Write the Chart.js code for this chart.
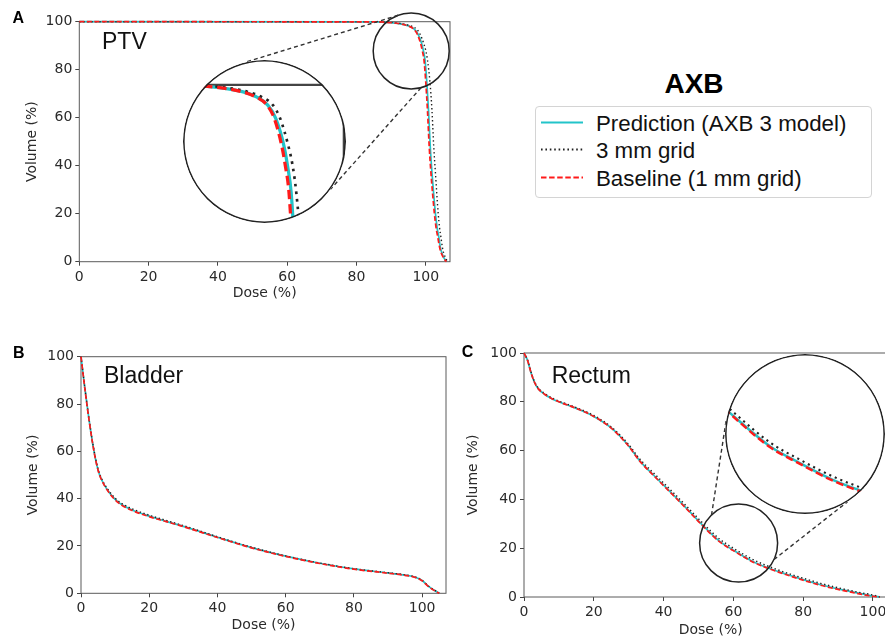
<!DOCTYPE html>
<html>
<head>
<meta charset="utf-8">
<script src="https://cdn.jsdelivr.net/npm/chart.js@4.4.1/dist/chart.umd.min.js"></script>
<style>
html,body{margin:0;padding:0;background:#fff;width:885px;height:637px;overflow:hidden;position:relative;}
canvas{position:absolute;display:block;}
.inset{position:absolute;border-radius:50%;overflow:hidden;background:#fff;}
.inset canvas{left:0;top:0;}
#title{position:absolute;left:594px;top:69.6px;width:200px;text-align:center;font:bold 28px "Liberation Sans",Arial,sans-serif;line-height:28px;color:#000;}
#legend{position:absolute;left:535px;top:106px;width:337px;height:92px;box-sizing:border-box;border:1px solid #d4d4d4;border-radius:4px;}
.row{position:absolute;left:0;height:22px;width:335px;}
.row svg{position:absolute;left:5px;top:0;}
.row span{position:absolute;left:60px;top:0;font:22.3px "Liberation Sans",Arial,sans-serif;line-height:22px;color:#111;white-space:nowrap;}
</style>
</head>
<body>
<canvas id="cA" width="460" height="305" style="left:0;top:0;"></canvas>
<canvas id="cB" width="460" height="307" style="left:0;top:330px;"></canvas>
<canvas id="cC" width="445" height="310" style="left:460px;top:330px;"></canvas>
<div class="inset" style="left:183px;top:60px;width:163px;height:163px;"><canvas id="iA" width="163" height="163"></canvas></div>
<div class="inset" style="left:725px;top:354px;width:160px;height:160px;"><canvas id="iC" width="160" height="160"></canvas></div>
<div id="title">AXB</div>
<div id="legend"></div>
<script>
// ---------- data ----------
const seriesNames = ['Prediction (AXB 3 model)', '3 mm grid', 'Baseline (1 mm grid)'];
const doseTicks = [0, 20, 40, 60, 80, 100];
const volumeTicks = [0, 20, 40, 60, 80, 100];

// PTV: shared volume levels (%), dose (%) for each series
const ptvVolume         = [100, 99.9, 99.6, 99, 98.2, 97, 95, 91, 88, 84, 75, 63, 48, 37, 28, 20, 14, 10, 6, 3.5, 2, 0.8, 0];
const ptvDoseBaseline   = [0, 86, 90, 93, 95, 96.5, 97.5, 98.5, 99, 99.5, 100, 100.5, 101, 101.5, 102, 102.5, 103, 103.5, 104, 104.5, 105, 105.5, 106];
const ptvDosePrediction = [0, 86, 90, 93.1, 95.1, 96.6, 97.7, 98.8, 99.3, 99.8, 100.3, 100.8, 101.3, 101.8, 102.3, 102.8, 103.3, 103.8, 104.2, 104.7, 105.1, 105.6, 106.1];
const ptvDose3mm        = [0, 86.5, 90.8, 93.8, 95.8, 97.3, 98.3, 99.4, 100, 100.5, 101.2, 101.8, 102.3, 102.8, 103.2, 103.6, 104, 104.4, 104.8, 105.2, 105.6, 106, 106.4];

// Bladder: shared dose (%), volume (%) for each series
const bladderDose          = [0, 1, 2, 3, 4, 5, 6, 8, 10, 12, 15, 20, 25, 30, 40, 50, 60, 70, 80, 90, 95, 98, 100, 102, 104, 105];
const bladderVolBaseline   = [100, 88, 77, 67, 58.5, 52, 48, 43, 39.5, 37.2, 35, 32.4, 30.3, 28.2, 23.6, 19.2, 15.6, 12.6, 10.2, 8.5, 7.6, 6.7, 5.3, 2.7, 0.8, 0];
const bladderVolPrediction = [100, 88.2, 77.2, 67.1, 58.6, 52.1, 48.1, 43.1, 39.7, 37.4, 35.2, 32.6, 30.4, 28.3, 23.7, 19.3, 15.7, 12.7, 10.3, 8.6, 7.7, 6.8, 5.4, 2.8, 0.9, 0];
const bladderVol3mm        = [100, 88.3, 77.4, 67.4, 59, 52.6, 48.6, 43.7, 40.2, 37.9, 35.7, 33, 30.8, 28.6, 23.9, 19.5, 15.8, 12.8, 10.4, 8.7, 7.8, 6.9, 5.5, 2.9, 1, 0];

// Rectum: shared dose (%), volume (%) for each series
const rectumDose          = [0, 1, 2, 3, 4, 6, 8, 10, 15, 20, 25, 30, 33, 37, 42, 47, 51, 56, 60, 65, 70, 75, 80, 85, 90, 95, 100, 102];
const rectumVolBaseline   = [100, 97, 92, 88, 85.5, 83, 81.3, 80, 77.3, 74, 69.2, 61.8, 56, 50, 42.8, 35.5, 29.5, 22.7, 19, 14.8, 11.7, 9.2, 6.9, 4.8, 3.1, 1.6, 0.3, 0];
const rectumVolPrediction = [100, 97, 92, 88, 85.5, 83, 81.3, 80, 77.3, 74, 69.3, 61.9, 56.1, 50.1, 43, 35.7, 29.7, 22.9, 19.2, 15, 11.9, 9.4, 7.1, 5, 3.3, 1.8, 0.4, 0];
const rectumVol3mm        = [100, 97.2, 92.3, 88.3, 85.8, 83.3, 81.6, 80.3, 77.6, 74.4, 69.7, 62.5, 56.8, 51, 43.9, 36.6, 30.6, 23.8, 20, 15.8, 12.6, 10, 7.7, 5.6, 3.8, 2.2, 0.8, 0];

// ---------- styles ----------
const COLORS = {pred: '#22c4c9', grid3: '#222222', base: '#ff1a1a'};
const FONT_AX = 'DejaVu Sans';
const FONT_TX = '"Liberation Sans", Arial, sans-serif';

function pts(xs, ys) { return xs.map((x, i) => ({x: x, y: ys[i]})); }

function datasets(pred, g3, base, k) {
  const common = {pointRadius: 0, pointHoverRadius: 0, fill: false, cubicInterpolationMode: 'monotone', clip: false, borderCapStyle: 'butt'};
  return [
    Object.assign({label: seriesNames[2], data: base, borderColor: COLORS.base, borderWidth: 1.7 * k, borderDash: [5 * k, 2.5 * k], order: 1}, common),
    Object.assign({label: seriesNames[1], data: g3, borderColor: COLORS.grid3, borderWidth: 1.4 * k, borderDash: [1.4 * k, 2.6 * k], order: 2}, common),
    Object.assign({label: seriesNames[0], data: pred, borderColor: COLORS.pred, borderWidth: 1.7 * k, order: 3}, common)
  ];
}

function decor(cfg) {
  return {
    id: 'decor',
    beforeDatasetsDraw(chart) {
      const ctx = chart.ctx, a = chart.chartArea;
      ctx.save();
      ctx.strokeStyle = '#5a5a5a';
      if (cfg.frame) {
        ctx.lineWidth = 1;
        ctx.strokeRect(a.left, a.top, a.right - a.left, a.bottom - a.top);
      }
      if (cfg.insetFrame) {
        const yT = chart.scales.y.getPixelForValue(cfg.insetFrame[1]);
        const xR = chart.scales.x.getPixelForValue(cfg.insetFrame[0]);
        ctx.strokeStyle = '#444';
        ctx.lineWidth = 2.2;
        ctx.beginPath();
        ctx.moveTo(a.left, yT); ctx.lineTo(xR, yT); ctx.lineTo(xR, a.bottom);
        ctx.stroke();
      }
      ctx.restore();
    },
    afterDatasetsDraw(chart) {
      const ctx = chart.ctx;
      ctx.save();
      if (cfg.mag) {
        const m = cfg.mag;
        const cx = chart.scales.x.getPixelForValue(m.center[0]);
        const cy = chart.scales.y.getPixelForValue(m.center[1]);
        ctx.strokeStyle = '#222';
        ctx.lineWidth = 1.5;
        ctx.beginPath(); ctx.arc(cx, cy, m.r, 0, Math.PI * 2); ctx.stroke();
        ctx.setLineDash([4, 3]);
        ctx.lineWidth = 1.4;
        ctx.strokeStyle = '#333';
        m.links.forEach(function (l) {
          const t1 = l[0] * Math.PI / 180, t2 = l[1] * Math.PI / 180;
          ctx.beginPath();
          ctx.moveTo(cx + m.r * Math.cos(t1), cy + m.r * Math.sin(t1));
          ctx.lineTo(m.big[0] + m.big[2] * Math.cos(t2), m.big[1] + m.big[2] * Math.sin(t2));
          ctx.stroke();
        });
        ctx.setLineDash([]);
      }
      if (cfg.ring) {
        const w = chart.width, h = chart.height;
        ctx.strokeStyle = '#222';
        ctx.lineWidth = 1.6;
        ctx.beginPath(); ctx.arc(w / 2, h / 2, w / 2 - 0.8, 0, Math.PI * 2); ctx.stroke();
      }
      ctx.restore();
    },
    afterDraw(chart) {
      if (!cfg.texts) return;
      const ctx = chart.ctx;
      ctx.save();
      ctx.textBaseline = 'alphabetic';
      ctx.textAlign = 'left';
      cfg.texts.forEach(function (t) {
        ctx.font = t.font;
        ctx.fillStyle = t.color || '#000';
        ctx.fillText(t.text, t.x, t.y);
      });
      ctx.restore();
    }
  };
}

function mainChart(id, cfg, ds) {
  const tickFont = {family: FONT_AX, size: 14};
  const grid = {display: true, drawOnChartArea: false, drawTicks: true, tickLength: 4, color: '#444', lineWidth: 1};
  return new Chart(document.getElementById(id), {
    type: 'line',
    data: {datasets: ds},
    options: {
      responsive: false, animation: false, events: [],
      layout: {padding: {left: 0, top: cfg.padTop, right: cfg.padRight, bottom: 0}},
      plugins: {legend: {display: false}, tooltip: {enabled: false}},
      scales: {
        x: {
          type: 'linear', min: 0, max: cfg.xMax,
          afterBuildTicks: function (s) { s.ticks = doseTicks.map(v => ({value: v})); },
          afterFit: function (s) { s.height = cfg.xAxisH; },
          grid: grid, border: {display: false},
          ticks: {font: tickFont, color: '#2a2a2a', padding: 3, maxRotation: 0, autoSkip: false},
          title: {display: true, text: 'Dose (%)', font: tickFont, color: '#2a2a2a', padding: {top: 0, bottom: cfg.xTitlePad}}
        },
        y: {
          type: 'linear', min: 0, max: 100,
          afterBuildTicks: function (s) { s.ticks = volumeTicks.map(v => ({value: v})); },
          afterFit: function (s) { s.width = cfg.yAxisW; },
          grid: grid, border: {display: false},
          ticks: {font: tickFont, color: '#2a2a2a', padding: 3, autoSkip: false},
          title: {display: true, text: 'Volume (%)', font: tickFont, color: '#2a2a2a', padding: {top: cfg.yTitlePad, bottom: 0}}
        }
      }
    },
    plugins: [decor(cfg)]
  });
}

function insetChart(id, cfg, ds) {
  return new Chart(document.getElementById(id), {
    type: 'line',
    data: {datasets: ds},
    options: {
      responsive: false, animation: false, events: [],
      layout: {padding: 0},
      plugins: {legend: {display: false}, tooltip: {enabled: false}},
      scales: {
        x: {type: 'linear', display: false, min: cfg.x[0], max: cfg.x[1]},
        y: {type: 'linear', display: false, min: cfg.y[0], max: cfg.y[1]}
      }
    },
    plugins: [decor(cfg)]
  });
}

// ---------- PTV ----------
const ptvPred = pts(ptvDosePrediction, ptvVolume);
const ptv3 = pts(ptvDose3mm, ptvVolume);
const ptvBase = pts(ptvDoseBaseline, ptvVolume);
mainChart('cA', {
  xMax: 107, padTop: 21.7, padRight: 10, yAxisW: 79.3, xAxisH: 43.3, yTitlePad: 23.6, xTitlePad: 3.6,
  frame: true,
  mag: {center: [95.8, 87.8], r: 38, big: [264.5, 141.5, 81.5], links: [[-110, -104], [75, 36]]},
  texts: [
    {text: 'A', x: 12.5, y: 22.7, font: 'bold 16px ' + FONT_TX},
    {text: 'PTV', x: 102, y: 49.3, font: '23px ' + FONT_TX, color: '#111'}
  ]
}, datasets(ptvPred, ptv3, ptvBase, 1));
insetChart('iA', {x: [85, 107.3], y: [79.5, 103.7], insetFrame: [107, 100], ring: true},
  datasets(ptvPred, ptv3, ptvBase, 1.9));

// ---------- Bladder ----------
mainChart('cB', {
  xMax: 107, padTop: 26.7, padRight: 14, yAxisW: 81, xAxisH: 43.7, yTitlePad: 24.6, xTitlePad: 3.6,
  frame: true,
  texts: [
    {text: 'B', x: 13, y: 28.3, font: 'bold 16px ' + FONT_TX},
    {text: 'Bladder', x: 104, y: 53.3, font: '23px ' + FONT_TX, color: '#111'}
  ]
}, datasets(pts(bladderDose, bladderVolPrediction), pts(bladderDose, bladderVol3mm), pts(bladderDose, bladderVolBaseline), 1));

// ---------- Rectum ----------
const recPred = pts(rectumDose, rectumVolPrediction);
const rec3 = pts(rectumDose, rectumVol3mm);
const recBase = pts(rectumDose, rectumVolBaseline);
mainChart('cC', {
  xMax: 107, padTop: 23, padRight: 7.6, yAxisW: 64, xAxisH: 43, yTitlePad: 4.6, xTitlePad: 1.6,
  frame: true,
  mag: {center: [61.5, 22.1], r: 39, big: [345, 104, 80], links: [[-134, -170], [25, 58]]},
  texts: [
    {text: 'C', x: 1.7, y: 26.7, font: 'bold 16px ' + FONT_TX},
    {text: 'Rectum', x: 91.7, y: 53.3, font: '23px ' + FONT_TX, color: '#111'}
  ]
}, datasets(recPred, rec3, recBase, 1));
insetChart('iC', {x: [49.5, 72.5], y: [6.9, 44.8], ring: true},
  datasets(recPred, rec3, recBase, 1.5));

// ---------- legend ----------
const legendItems = [
  {name: seriesNames[0], color: COLORS.pred, dash: ''},
  {name: seriesNames[1], color: COLORS.grid3, dash: '1.6 2.8'},
  {name: seriesNames[2], color: COLORS.base, dash: '5.5 2.6'}
];
const leg = document.getElementById('legend');
legendItems.forEach(function (it, i) {
  const row = document.createElement('div');
  row.className = 'row';
  row.style.top = (5.6 + i * 27.75) + 'px';
  row.innerHTML = '<svg width="42" height="22"><line x1="0" y1="9.5" x2="42" y2="9.5" stroke="' + it.color +
    '" stroke-width="2"' + (it.dash ? ' stroke-dasharray="' + it.dash + '"' : '') + '/></svg><span></span>';
  row.querySelector('span').textContent = it.name;
  leg.appendChild(row);
});
</script>
</body>
</html>
